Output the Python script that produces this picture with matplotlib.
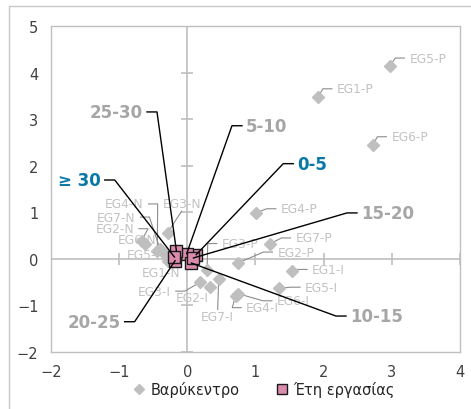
import matplotlib
matplotlib.use('Agg')
import matplotlib.pyplot as plt
from matplotlib.patches import Rectangle
from matplotlib.lines import Line2D
import numpy as np

# ---------------- data ----------------
centroid_labels = ['EG1-P', 'EG2-P', 'EG3-P', 'EG4-P', 'EG5-P', 'EG6-P', 'EG7-P',
                   'EG1-I', 'EG2-I', 'EG3-I', 'EG4-I', 'EG5-I', 'EG6-I', 'EG7-I',
                   'EG1-N', 'EG2-N', 'EG3-N', 'EG4-N', 'EG5-N', 'EG6-N', 'EG7-N']
centroid_x = [1.92, 0.74, 0.29, 1.01, 2.97, 2.72, 1.21,
              1.53, 0.33, 0.19, 0.71, 1.34, 0.75, 0.46,
              -0.28, -0.67, -0.29, -0.44, -0.32, -0.62, -0.40]
centroid_y = [3.48, -0.09, -0.23, 0.99, 4.14, 2.45, 0.32,
              -0.27, -0.61, -0.50, -0.79, -0.63, -0.75, -0.43,
              -0.04, 0.39, 0.56, 0.17, 0.08, 0.32, 0.21]

years_labels = ['0-5', '5-10', '10-15', '15-20', '20-25', '25-30', '≥ 30']
years_x = [0.13, -0.01, 0.06, 0.09, -0.18, -0.16, -0.19]
years_y = [0.09, 0.11, -0.09, 0.02, -0.04, 0.17, 0.04]

x_ticks = [-2, -1, 0, 1, 2, 3, 4]
y_ticks = [-2, -1, 0, 1, 2, 3, 4, 5]
legend_labels = ['Βαρύκεντρο', 'Έτη εργασίας']

# ---------------- layout (label offsets in pixels, +y downwards) ----------------
centroid_offsets = {
    'EG1-P': (37, -8), 'EG2-P': (58, -11), 'EG3-P': (33, -26), 'EG4-P': (43, -4),
    'EG5-P': (38, -8), 'EG6-P': (37, -8), 'EG7-P': (44, -6),
    'EG1-I': (37, -2), 'EG2-I': (-18, 10), 'EG3-I': (-46, 9), 'EG4-I': (27, 12),
    'EG5-I': (43, -1), 'EG6-I': (55, 7), 'EG7-I': (-1, 38),
    'EG1-N': (-7, 12), 'EG2-N': (-27, -12), 'EG3-N': (14, -29), 'EG4-N': (-33, -47),
    'EG5-N': (-19, -1), 'EG6-N': (-8, -4), 'EG7-N': (-44, -32),
}
years_offsets = {
    '0-5': (116, -91), '5-10': (80, -128), '10-15': (185, 53), '15-20': (194, -45),
    '20-25': (-81, 61), '25-30': (-60, -139), '≥ 30': (-95, -77),
}
years_colors = {'0-5': '#0A78A6', '≥ 30': '#0A78A6'}

W, H = 471, 410
fig = plt.figure(figsize=(W / 100, H / 100), dpi=100)
ax = fig.add_axes([51 / W, 1 - 353 / H, 409 / W, 326 / H])
ax.set_xlim(-2, 4)
ax.set_ylim(-2, 5)

grey_axis = '#BFBFBF'
for s in ax.spines.values():
    s.set_color(grey_axis)
    s.set_linewidth(1.0)

ax.set_xticks(x_ticks)
ax.set_yticks(y_ticks)
ax.tick_params(length=0, labelsize=10.5, labelcolor='#404040', pad=9)

# axis lines through origin with cross ticks
ax.axhline(0, color=grey_axis, lw=1.2, zorder=1)
ax.axvline(0, color=grey_axis, lw=1.2, zorder=1)
xt = [t for t in x_ticks if t != 0]
yt = [t for t in y_ticks if t != 0]
ax.plot(xt, [0] * len(xt), ls='', marker='|', ms=8, mew=1.2, color=grey_axis, zorder=1)
ax.plot([0] * len(yt), yt, ls='', marker='_', ms=8, mew=1.2, color=grey_axis, zorder=1)

pink = '#D98CAC'
ax.plot(centroid_x, centroid_y, ls='', marker='D', ms=6.5, color='#BFBFBF', mec='#BFBFBF', zorder=3)
ax.plot(years_x, years_y, ls='', marker='s', ms=9, mfc=pink, mec='#1A1A1A', mew=1.0, zorder=4)

texts = []
for lab, x, y in zip(centroid_labels, centroid_x, centroid_y):
    dx, dy = centroid_offsets[lab]
    t = ax.annotate(lab, xy=(x, y), xytext=(dx * 0.72, -dy * 0.72), textcoords='offset points',
                    ha='center', va='center', fontsize=8.8, color='#C2C2C2', zorder=2)
    texts.append((t, x, y, '#8C8C8C', 0.8, 5, 9, 2.5))
for lab, x, y in zip(years_labels, years_x, years_y):
    dx, dy = years_offsets[lab]
    t = ax.annotate(lab, xy=(x, y), xytext=(dx * 0.72, -dy * 0.72), textcoords='offset points',
                    ha='center', va='center', fontsize=12, fontweight='bold',
                    color=years_colors.get(lab, '#A6A6A6'), zorder=6)
    texts.append((t, x, y, '#000000', 1.0, 4, 10, 5))

fig.canvas.draw()
renderer = fig.canvas.get_renderer()
inv = ax.transData.inverted()
for t, x, y, col, lw, gap, shoulder, zo in texts:
    bb = t.get_window_extent(renderer)
    px, py = ax.transData.transform((x, y))
    cy = (bb.y0 + bb.y1) / 2
    cx = (bb.x0 + bb.x1) / 2
    if px < bb.x0 - 6:
        pts = [(px, py), (bb.x0 - gap - shoulder, cy), (bb.x0 - gap, cy)]
    elif px > bb.x1 + 6:
        pts = [(px, py), (bb.x1 + gap + shoulder, cy), (bb.x1 + gap, cy)]
    elif py < bb.y0 - 6:
        pts = [(px, py), (cx, bb.y0 - 1)]
    elif py > bb.y1 + 6:
        pts = [(px, py), (cx, bb.y1 + 1)]
    else:
        continue
    d = inv.transform(np.array(pts))
    ax.plot(d[:, 0], d[:, 1], color=col, lw=lw, zorder=zo, clip_on=False)

# outer chart border
fig.add_artist(Rectangle((9 / W, -0.02), 1.05, 1 - 7 / H + 0.02, transform=fig.transFigure,
                         fill=False, edgecolor='#C8C8C8', lw=1.0))

handles = [Line2D([], [], ls='', marker='D', ms=5, color='#BFBFBF'),
           Line2D([], [], ls='', marker='s', ms=7, mfc=pink, mec='#1A1A1A', mew=1.0)]
leg = fig.legend(handles, legend_labels, loc='center', bbox_to_anchor=(263 / W, 1 - 390 / H),
                 ncol=2, frameon=False, fontsize=10.5, handletextpad=0.3,
                 columnspacing=2.4, handlelength=1.0)
for txt in leg.get_texts():
    txt.set_color('#262626')

fig.savefig('out.png', dpi=100)
